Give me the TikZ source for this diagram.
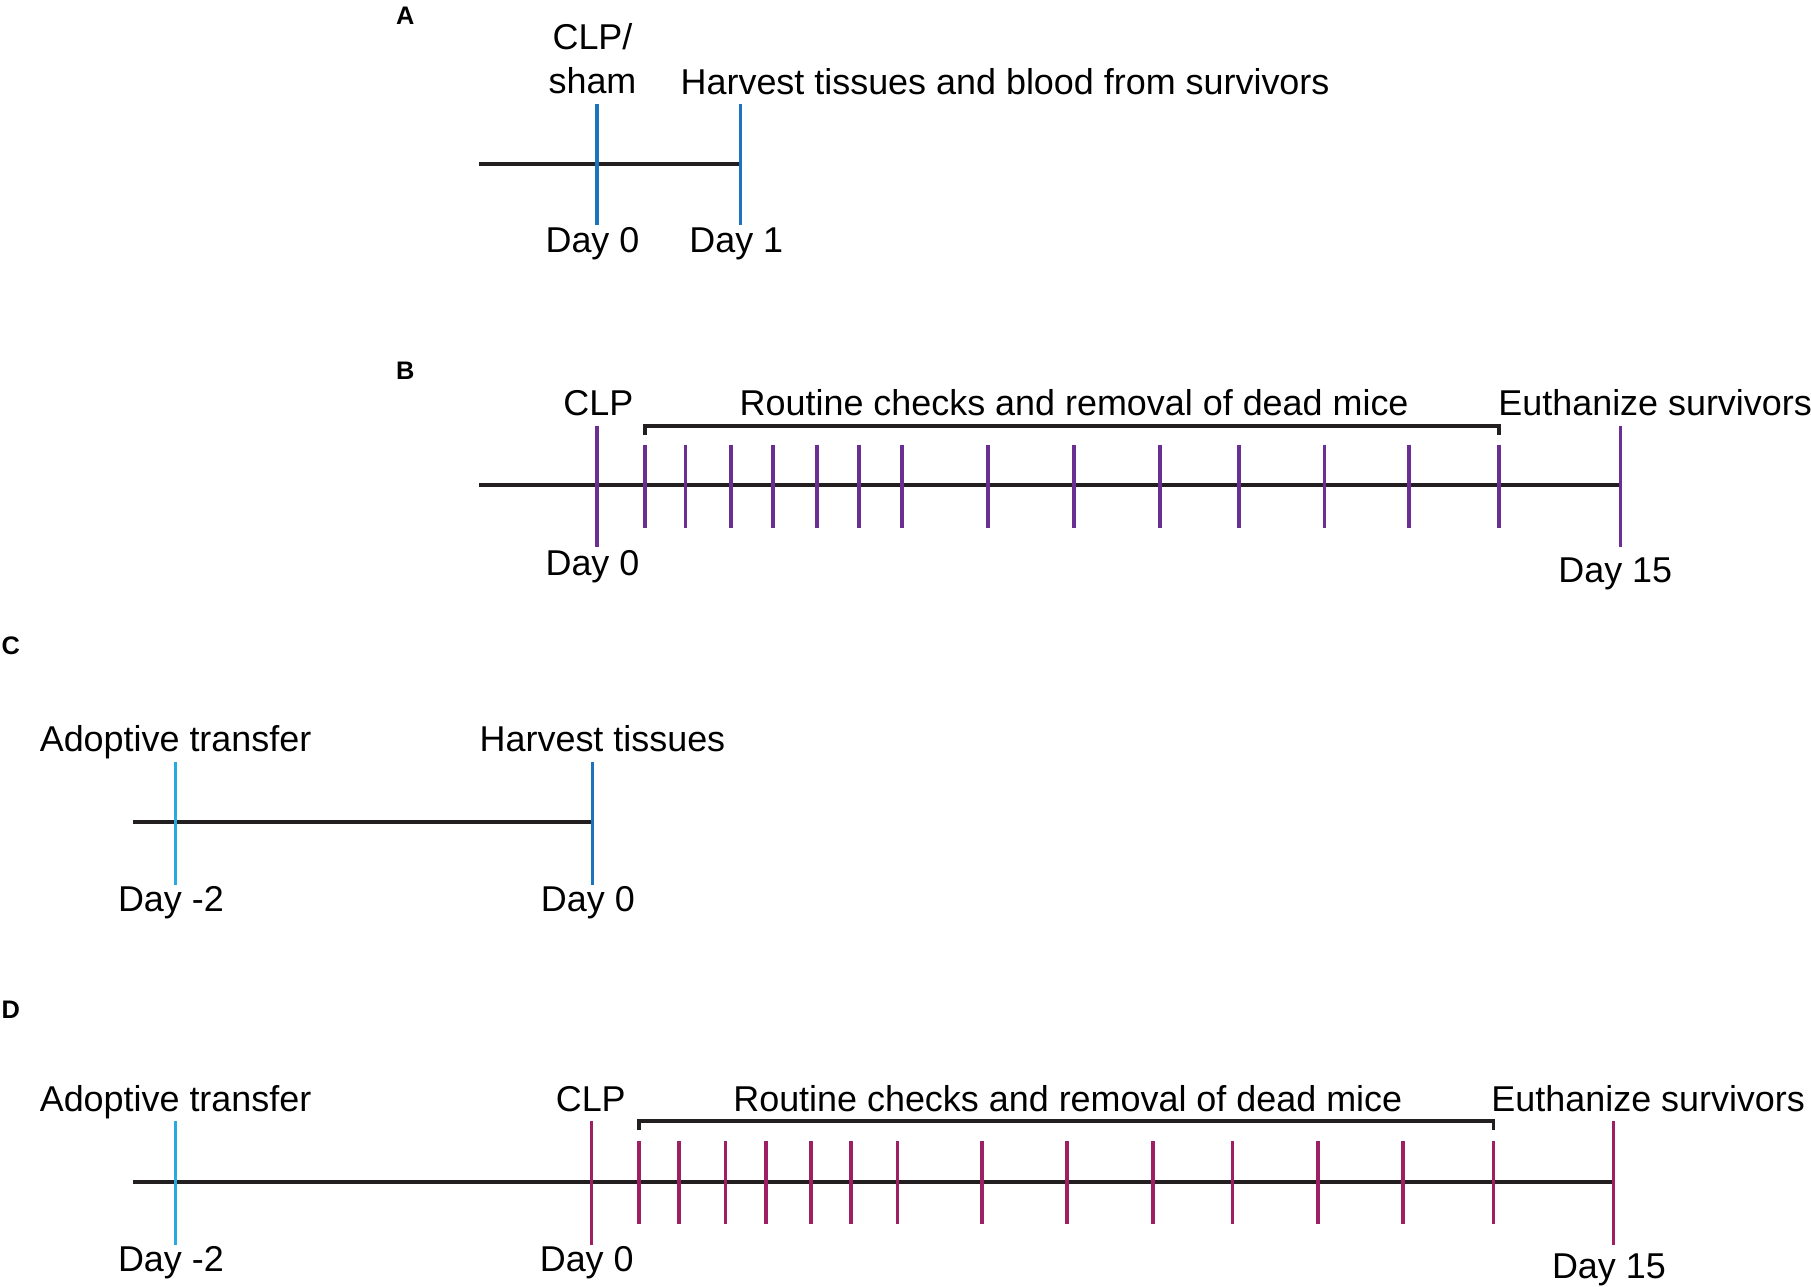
\documentclass[tikz,border=0pt]{standalone}
\usepackage{fontspec}
\setmainfont{Liberation Sans}
\definecolor{axisc}{HTML}{231F20}
\definecolor{blueA}{HTML}{1C75BC}
\definecolor{lblue}{HTML}{27AAE1}
\definecolor{purp}{HTML}{6B2E93}
\definecolor{mag}{HTML}{9E1F63}
\begin{document}
\begin{tikzpicture}[x=0.02cm,y=-0.02cm,
  txt/.style={font=\fontsize{17.7}{21}\selectfont, inner sep=0pt, anchor=base},
  lbl/.style={font=\fontsize{12.5}{15}\selectfont\bfseries, inner sep=0pt, anchor=base},
  axisline/.style={line width=2pt, draw=axisc},
  tickline/.style={line width=1.8pt},
  bracketline/.style={line width=1.8pt, draw=axisc}]
\useasboundingbox (0,0) rectangle (1568,1114);

% ---------- Panel A ----------
\node[lbl] (lA) at (351,21) {A};
\coordinate (aL) at (415,142);
\coordinate (aR) at (641,142);
\draw[axisline] (aL) -- (aR);
\draw[tickline, blueA] (517,90) -- (517,195);
\draw[tickline, blueA] (641,90) -- (641,195);
\node[txt] (aclp) at (513,43) {CLP/};
\node[txt] (asham) at (513,81) {sham};
\node[txt, anchor=base west] (aharv) at (589,82) {Harvest tissues and blood from survivors};
\node[txt] (ad0) at (513,219) {Day 0};
\node[txt] (ad1) at (637.5,219) {Day 1};

% ---------- Panel B ----------
\node[lbl] (lB) at (351,329) {B};
\coordinate (bL) at (415,420);
\coordinate (bR) at (1403,420);
\draw[axisline] (bL) -- (bR);
\draw[tickline, purp] (517,369) -- (517,474);
\draw[tickline, purp] (1403,369) -- (1403,474);
\foreach \x in {558.4,593.5,633.1,669,707.2,743.8,781.2,855.3,930.1,1004.1,1072.7,1146.7,1219.9,1297.9}
  \draw[tickline, purp] (\x,385) -- (\x,457);
\draw[bracketline] (558.4,377) -- (558.4,369) -- (1297.9,369) -- (1297.9,377);
\node[txt] (bclp) at (518,360) {CLP};
\node[txt] (broutine) at (930,360) {Routine checks and removal of dead mice};
\node[txt, anchor=base west] (beuth) at (1297,360) {Euthanize survivors};
\node[txt] (bd0) at (513,498) {Day 0};
\node[txt] (bd15) at (1398.5,504) {Day 15};

% ---------- Panel C ----------
\node[lbl, anchor=base west] (lC) at (1,567) {C};
\coordinate (cL) at (115,711.5);
\coordinate (cR) at (513,711.5);
\draw[axisline] (cL) -- (cR);
\draw[tickline, lblue] (152,659.5) -- (152,766);
\draw[tickline, blueA] (513,659.5) -- (513,766);
\node[txt] (cadopt) at (152,651) {Adoptive transfer};
\node[txt, anchor=base west] (charv) at (415,651) {Harvest tissues};
\node[txt] (cdm2) at (148,789.5) {Day -2};
\node[txt] (cd0) at (509,789.5) {Day 0};

% ---------- Panel D ----------
\node[lbl, anchor=base west] (lD) at (1,882) {D};
\coordinate (dL) at (115,1023.5);
\coordinate (dR) at (1397,1023.5);
\draw[axisline] (dL) -- (dR);
\draw[tickline, lblue] (152,970.5) -- (152,1078);
\draw[tickline, mag] (512,970.5) -- (512,1078);
\draw[tickline, mag] (1397,970.5) -- (1397,1078);
\foreach \x in {553,588,628,663,702,737,777,850,924,998,1067,1141,1215,1293}
  \draw[tickline, mag] (\x,988) -- (\x,1060);
\draw[bracketline] (553,978.5) -- (553,970.5) -- (1293,970.5) -- (1293,978.5);
\node[txt] (dadopt) at (152,962) {Adoptive transfer};
\node[txt] (dclp) at (511.5,962) {CLP};
\node[txt] (droutine) at (924.5,962) {Routine checks and removal of dead mice};
\node[txt, anchor=base west] (deuth) at (1291,962) {Euthanize survivors};
\node[txt] (ddm2) at (148,1101) {Day -2};
\node[txt] (dd0) at (508,1101) {Day 0};
\node[txt] (dd15) at (1393,1107) {Day 15};
\end{tikzpicture}
\end{document}
